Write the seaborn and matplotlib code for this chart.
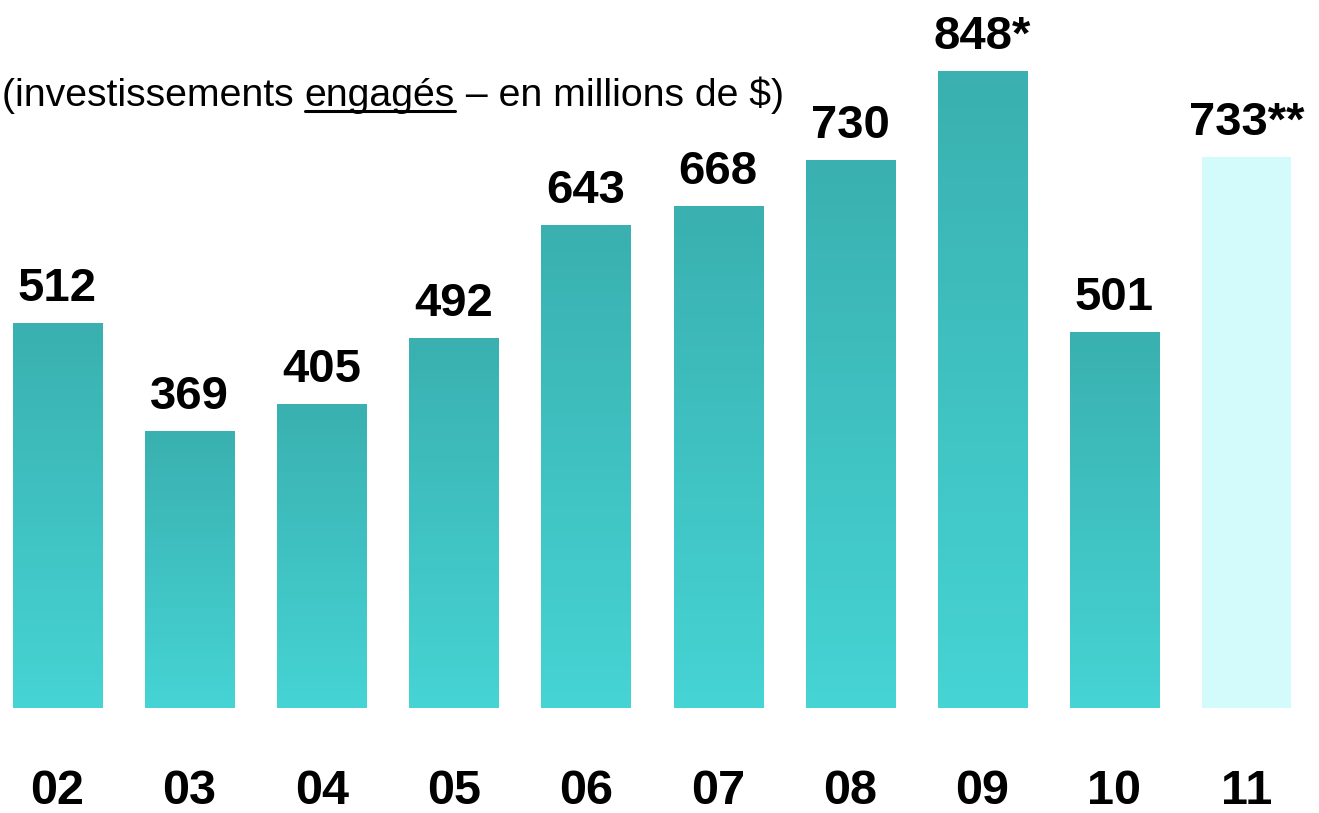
import numpy as np
import pandas as pd
import matplotlib
matplotlib.use("Agg")
import matplotlib.pyplot as plt
import matplotlib.colors as mcolors
import seaborn as sns

years = ["02", "03", "04", "05", "06", "07", "08", "09", "10", "11"]
values = [512, 369, 405, 492, 643, 668, 730, 848, 501, 733]
labels = ["512", "369", "405", "492", "643", "668", "730", "848*", "501", "733**"]

df = pd.DataFrame({"year": years, "value": values})

sns.set_style("white")
narrow = ["Liberation Sans Narrow", "Liberation Sans", "DejaVu Sans"]
plt.rcParams["font.family"] = ["Liberation Sans", "DejaVu Sans"]

fig = plt.figure(figsize=(13.19, 8.13), dpi=100)
ax = fig.add_axes([0, 105 / 813, 1, 708 / 813])

sns.barplot(data=df, x="year", y="value", color="#3fc2c2", width=0.674,
            saturation=1, ax=ax)

# vertical gradient fill for each bar, last one plain pale cyan
grad = mcolors.LinearSegmentedColormap.from_list("tealgrad", ["#46d4d4", "#3ab0b0"])
for i, p in enumerate(ax.patches):
    x0, w, h = p.get_x(), p.get_width(), p.get_height()
    if i == len(ax.patches) - 1:
        p.set_facecolor("#d4fbfb")
        p.set_edgecolor("none")
        continue
    p.set_facecolor("none")
    p.set_edgecolor("none")
    img = ax.imshow(np.linspace(0, 1, 256).reshape(-1, 1), cmap=grad,
                    extent=[x0, x0 + w, 0, h], origin="lower", aspect="auto",
                    zorder=1)
    img.set_clip_path(p)
ax.set_xlim(-0.435, 9.549)
ax.set_ylim(0, 942.7)

for i, (v, lab) in enumerate(zip(values, labels)):
    ax.annotate(lab, (i, v), xytext=(0, 16), textcoords="offset points",
                ha="center", va="baseline", fontsize=34, fontweight="bold",
                color="black")

for s in ax.spines.values():
    s.set_visible(False)
ax.set_yticks([])
ax.set_xlabel("")
ax.set_ylabel("")
ax.tick_params(axis="x", length=0, pad=44, labelcolor="black")
for t in ax.get_xticklabels():
    t.set_fontfamily(narrow)
    t.set_fontweight("bold")
    t.set_fontsize(35)

# subtitle with underlined word
parts = ["(investissements ", "engagés", " – en millions de $)"]
fig.canvas.draw()
renderer = fig.canvas.get_renderer()
x = 2 / 1319
y = 1 - 106 / 813
for k, txt in enumerate(parts):
    t = fig.text(x, y, txt, fontsize=28.3, family=narrow, va="baseline",
                 ha="left", color="black")
    bb = t.get_window_extent(renderer=renderer)
    if k == 1:
        fig.add_artist(plt.Line2D([bb.x0 / 1319, bb.x1 / 1319],
                                  [(813 - 111) / 813] * 2, color="black",
                                  lw=2.2, transform=fig.transFigure))
    x = bb.x1 / 1319

fig.savefig("out.png", dpi=100)
